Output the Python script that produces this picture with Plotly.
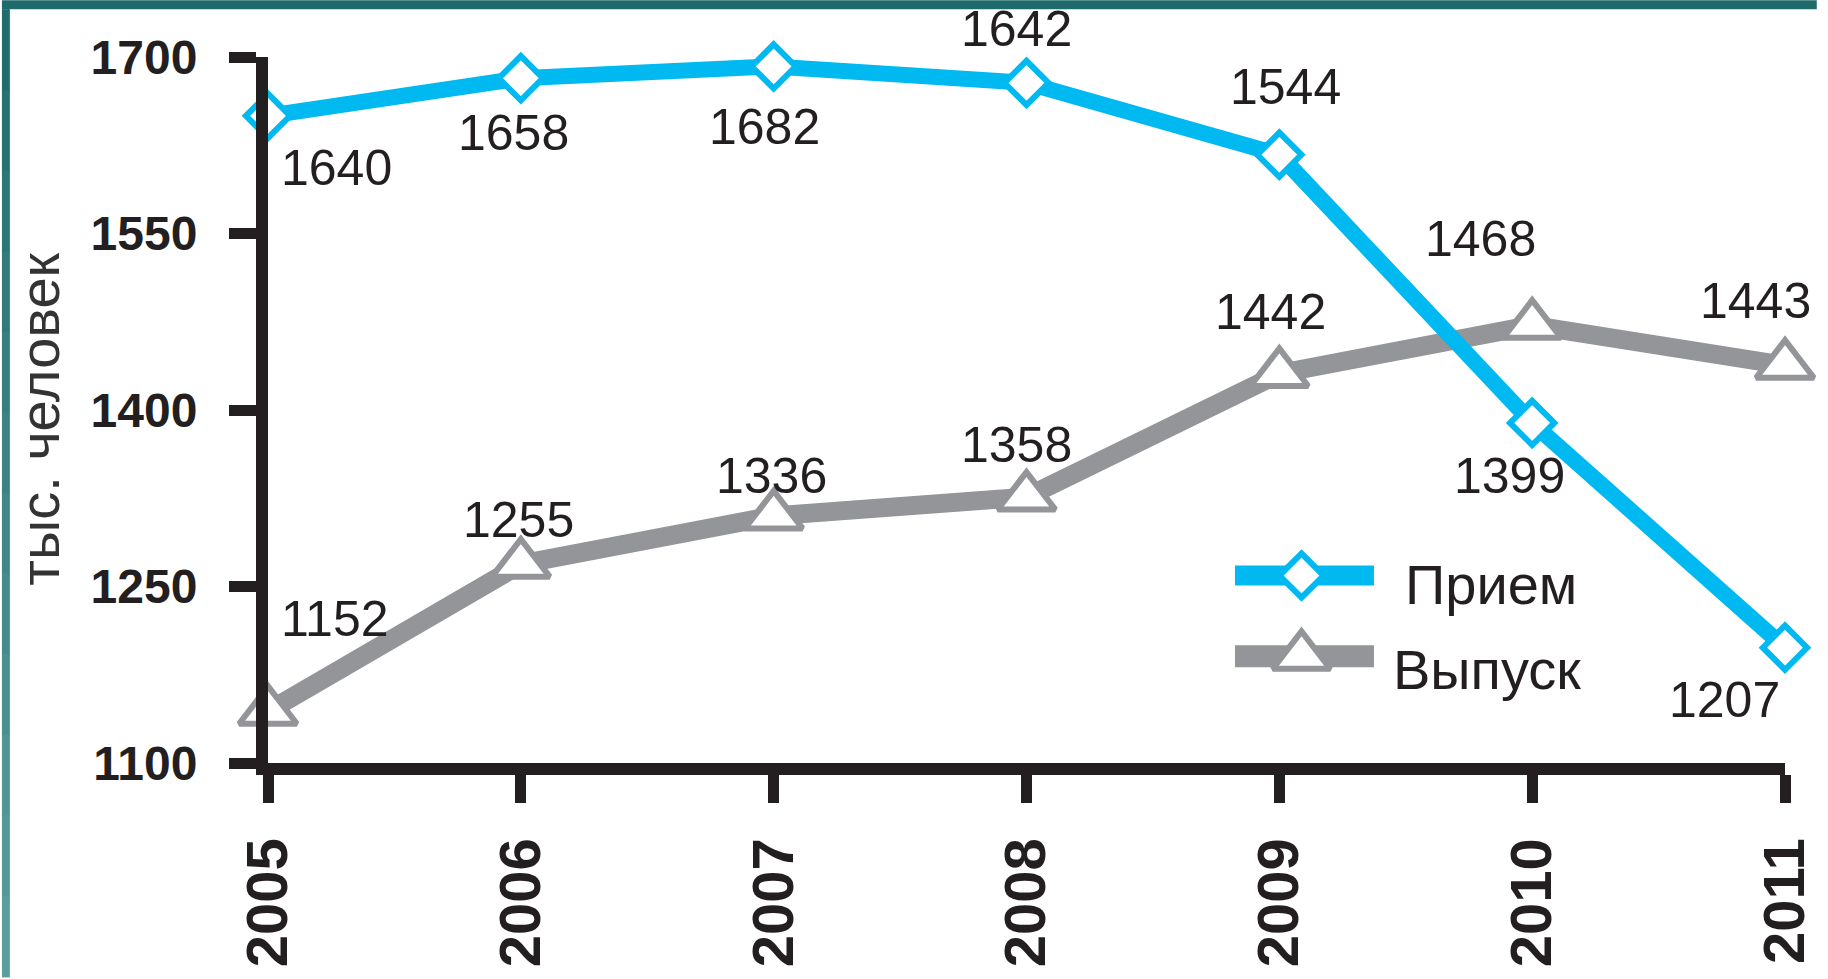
import plotly.graph_objects as go

# ---- data ----
years = [2005, 2006, 2007, 2008, 2009, 2010, 2011]
priem_values = [1650, 1682, 1692, 1678, 1617, 1389, 1198]
priem_labels = ["1640", "1658", "1682", "1642", "1544", "1399", "1207"]
vypusk_values = [1144, 1269, 1310, 1326, 1431, 1472, 1438]
vypusk_labels = ["1152", "1255", "1336", "1358", "1442", "1468", "1443"]
y_ticks = [1100, 1250, 1400, 1550, 1700]
series_names = ["Прием", "Выпуск"]
y_title = "тыс. человек"

# ---- style ----
W, H = 1828, 979
L, R, T, B = 268, 32, 57, 214
CYAN = "#00B9F1"
GRAY = "#939598"
INK = "#231F20"
FONT = "Liberation Sans"

# label pixel offsets (dx, dy) – dy positive = up
priem_off = [(68, -52), (-7, -55), (-9, -61), (-10, 54), (6, 68), (-23, -53), (-61, -52)]
vypusk_off = [(67, 92), (-2, 44), (-2, 40), (-10, 52), (-9, 62), (-52, 86), (-30, 64)]

fig = go.Figure()

fig.add_trace(go.Scatter(
    x=years, y=vypusk_values, mode="lines+markers", name=series_names[1],
    line=dict(color=GRAY, width=19),
    marker=dict(symbol="triangle-up", size=50, color="white",
                line=dict(color=GRAY, width=6)),
    cliponaxis=False, showlegend=False))
fig.add_trace(go.Scatter(
    x=years, y=priem_values, mode="lines+markers", name=series_names[0],
    line=dict(color=CYAN, width=16),
    marker=dict(symbol="diamond", size=34, color="white",
                line=dict(color=CYAN, width=6)),
    cliponaxis=False, showlegend=False))

annotations = []
for xv, yv, t, (dx, dy) in zip(years, priem_values, priem_labels, priem_off):
    annotations.append(dict(x=xv, y=yv, text=t, showarrow=False, xshift=dx, yshift=dy,
                            font=dict(family=FONT, size=50, color=INK)))
for xv, yv, t, (dx, dy) in zip(years, vypusk_values, vypusk_labels, vypusk_off):
    annotations.append(dict(x=xv, y=yv, text=t, showarrow=False, xshift=dx, yshift=dy,
                            font=dict(family=FONT, size=50, color=INK)))

# ---- manual legend on a pixel overlay axis ----
leg_rows = [(577, CYAN, 20, "diamond", 34, 1411, 586), (658, GRAY, 22, "triangle-up", 50, 1399, 671)]
for name, (ly, col, lw, sym, ms, tx, ty) in zip(series_names, leg_rows):
    fig.add_trace(go.Scatter(x=[1242, 1382], y=[ly, ly], mode="lines",
                             line=dict(color=col, width=lw), xaxis="x2", yaxis="y2",
                             showlegend=False, hoverinfo="skip", cliponaxis=False))
    fig.add_trace(go.Scatter(x=[1309], y=[ly], mode="markers",
                             marker=dict(symbol=sym, size=ms, color="white",
                                         line=dict(color=col, width=6)),
                             xaxis="x2", yaxis="y2", showlegend=False, hoverinfo="skip",
                             cliponaxis=False))
    annotations.append(dict(x=tx, y=ty, xref="x2", yref="y2", text=name, showarrow=False,
                            xanchor="left", font=dict(family=FONT, size=56, color=INK)))

# ---- teal frame ----
pw, ph = W - L - R, H - T - B
def px(x):
    return (x - L) / pw
def py(y):
    return 1 - (y - T) / ph

# y-axis title as a rotated annotation
annotations.append(dict(x=px(38), y=py(420), xref="paper", yref="paper", text=y_title,
                        textangle=-90, showarrow=False, xanchor="center", yanchor="middle",
                        font=dict(family=FONT, size=56, color="#333333")))

shapes = [dict(type="rect", xref="paper", yref="paper", x0=px(0), x1=px(W), y0=py(0), y1=py(9),
               fillcolor="#1F6B6B", line=dict(width=0), layer="below")]
n = 12
c0 = (0x1F, 0x6B, 0x6B)
c1 = (0x5A, 0xA0, 0x9E)
for i in range(n):
    f = (i + 0.5) / n
    c = tuple(int(round(a + (b - a) * f)) for a, b in zip(c0, c1))
    shapes.append(dict(type="rect", xref="paper", yref="paper", x0=px(0), x1=px(8),
                       y0=py(9 + (H - 9) * i / n), y1=py(9 + (H - 9) * (i + 1) / n + 1),
                       fillcolor="rgb(%d,%d,%d)" % c, line=dict(width=0), layer="below"))

fig.update_layout(
    width=W, height=H, margin=dict(l=L, r=R, t=T, b=B, pad=0),
    paper_bgcolor="white", plot_bgcolor="rgba(0,0,0,0)",
    showlegend=False, annotations=annotations, shapes=shapes,
    xaxis=dict(range=[2005, 2011], tickvals=years, ticktext=[str(y) for y in years],
               tickangle=-90, showgrid=False, zeroline=False,
               showline=True, linecolor=INK, linewidth=12,
               ticks="outside", ticklen=28, tickwidth=11, tickcolor=INK,
               ticklabelstandoff=12,
               tickfont=dict(family=FONT, size=58, color=INK, weight="bold")),
    yaxis=dict(range=[1100, 1700], tickvals=y_ticks, showgrid=False, zeroline=False,
               showline=True, linecolor=INK, linewidth=12,
               ticks="outside", ticklen=27, tickwidth=11, tickcolor=INK,
               ticklabelstandoff=22,
               tickfont=dict(family=FONT, size=48, color=INK, weight="bold")),
    xaxis2=dict(overlaying="x", range=[L, W - R], visible=False),
    yaxis2=dict(overlaying="y", range=[H - B, T], visible=False),
)

fig.write_html("out.html", config={"displayModeBar": False},
               post_script="document.body.style.margin='0';"
                           "document.body.style.overflow='hidden';"
                           "document.documentElement.style.overflow='hidden';")
